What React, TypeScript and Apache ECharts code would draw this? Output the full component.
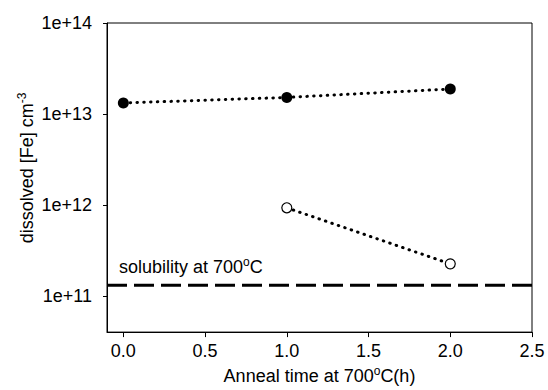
import React, { useEffect, useRef } from "react";
import * as echarts from "echarts";

const timeHours = [0, 1, 2];
const filledFe = [1.32e13, 1.52e13, 1.88e13];
const openTimes = [1, 2];
const openFe = [9.3e11, 2.25e11];
const solubilityValue = 1.31e11;
const solubilityRange = [-0.1, 2.5];
const xTicks = [0, 0.5, 1, 1.5, 2, 2.5];
const yTicks = [1e11, 1e12, 1e13, 1e14];

const FONT = "'Liberation Sans', Arial, sans-serif";
const FS = 18;
const SUP = 12;

export default function App() {
  const ref = useRef<HTMLDivElement>(null);
  useEffect(() => {
    if (!ref.current) return;
    const chart = echarts.init(ref.current, undefined, { renderer: "svg" });
    const axisLabelStyle = { color: "#000", fontSize: FS, fontFamily: FONT };
    const rich = {
      a: { fontSize: FS, fontFamily: FONT, color: "#000", fill: "#000", lineHeight: 22 },
      sup: { fontSize: SUP, fontFamily: FONT, color: "#000", fill: "#000", verticalAlign: "top", lineHeight: 22 },
    };
    chart.setOption({
      animation: false,
      backgroundColor: "#fff",
      textStyle: { fontFamily: FONT },
      grid: {
        left: 107,
        right: 16,
        top: 23,
        bottom: 52,
        show: true,
        borderColor: "#000",
        borderWidth: 1,
        backgroundColor: "transparent",
      },
      xAxis: {
        type: "value",
        min: -0.1,
        max: 2.5,
        splitLine: { show: false },
        axisLine: { show: true, onZero: false, lineStyle: { color: "#000", width: 1 } },
        axisTick: {
          show: true,
          length: 5,
          inside: false,
          lineStyle: { color: "#000" },
          customValues: xTicks,
        },
        axisLabel: {
          ...axisLabelStyle,
          margin: 10,
          customValues: xTicks,
          formatter: (v: number) => v.toFixed(1),
        },
        name: "{a|Anneal time at 700}{sup|o}{a|C(h)}",
        nameLocation: "middle",
        nameGap: 31,
        nameTextStyle: { rich },
      },
      yAxis: {
        type: "log",
        logBase: 10,
        min: 4e10,
        max: 1e14,
        splitLine: { show: false },
        minorTick: { show: false },
        axisLine: { show: true, onZero: false, lineStyle: { color: "#000", width: 1 } },
        axisTick: {
          show: true,
          length: 4,
          inside: false,
          lineStyle: { color: "#000" },
          customValues: yTicks,
        },
        axisLabel: {
          ...axisLabelStyle,
          margin: 15,
          customValues: yTicks,
          formatter: (v: number) => "1e+" + Math.round(Math.log10(v)),
        },
      },
      graphic: [
        {
          type: "text",
          x: 27,
          y: 168,
          rotation: Math.PI / 2,
          style: {
            text: "{a|dissolved [Fe] cm}{sup|-3}",
            align: "center",
            verticalAlign: "middle",
            rich,
          },
        },
        {
          type: "text",
          x: 119,
          y: 267,
          style: {
            text: "{a|solubility at 700}{sup|o}{a|C}",
            align: "left",
            verticalAlign: "middle",
            rich,
          },
        },
      ],
      series: [
        {
          type: "line",
          data: solubilityRange.map((x) => [x, solubilityValue]),
          symbol: "none",
          lineStyle: { color: "#000", width: 3, type: [20, 7] },
          z: 1,
        },
        {
          type: "line",
          data: timeHours.map((x, i) => [x, filledFe[i]]),
          symbol: "circle",
          symbolSize: 11,
          itemStyle: { color: "#000" },
          lineStyle: { color: "#000", width: 3, type: [0.5, 6.3], cap: "round" },
          z: 3,
        },
        {
          type: "line",
          data: openTimes.map((x, i) => [x, openFe[i]]),
          symbol: "circle",
          symbolSize: 10,
          itemStyle: { color: "#fff", borderColor: "#000", borderWidth: 1.2 },
          lineStyle: { color: "#000", width: 3, type: [0.5, 6.3], cap: "round" },
          z: 3,
        },
      ],
    });
    return () => chart.dispose();
  }, []);
  return (
    <div
      ref={ref}
      style={{ position: "fixed", left: 0, top: 0, width: 548, height: 390 }}
    />
  );
}
